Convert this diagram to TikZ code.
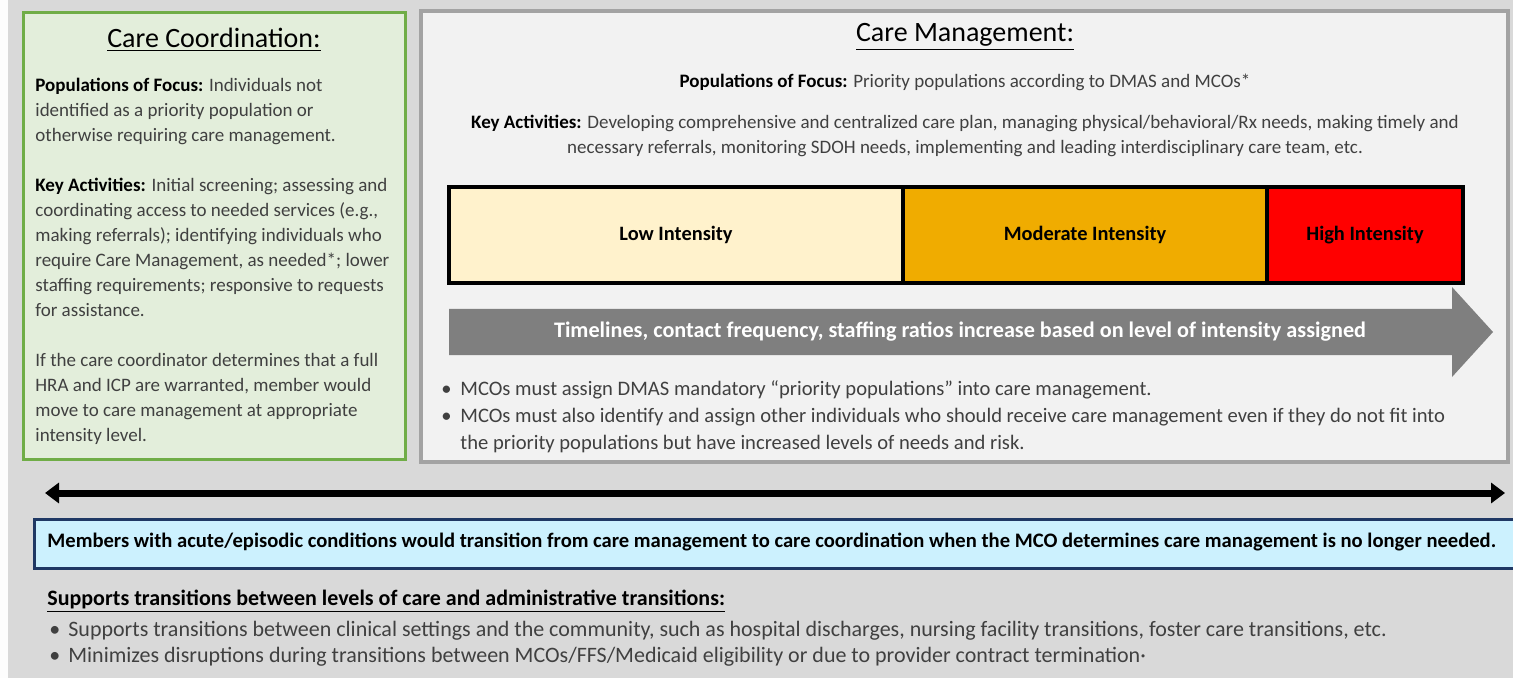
\documentclass[tikz,border=0pt]{standalone}
\usepackage{fontspec}
\setmainfont{Carlito}
\usetikzlibrary{arrows.meta,positioning}

\definecolor{bggray}{HTML}{D9D9D9}
\definecolor{ccfill}{HTML}{E3EEDB}
\definecolor{ccline}{HTML}{70AD47}
\definecolor{cmfill}{HTML}{F2F2F2}
\definecolor{cmline}{HTML}{A3A3A3}
\definecolor{lowfill}{HTML}{FFF2CC}
\definecolor{modfill}{HTML}{F0AC00}
\definecolor{highfill}{HTML}{FF0000}
\definecolor{arrowgray}{HTML}{7F7F7F}
\definecolor{transfill}{HTML}{CCF1FE}
\definecolor{transline}{HTML}{1F3864}
\definecolor{txtgray}{HTML}{404040}

\newcommand{\hdword}[1]{\textcolor{black}{\textbf{#1}}}
\newcommand{\bul}{\makebox[9.5pt][l]{•}}

\tikzset{
  titletxt/.style={font=\fontsize{14}{16}\selectfont, text=black, inner sep=0pt},
  bodytxt/.style={font=\fontsize{9.5}{12.5}\selectfont, text=txtgray, align=left, inner sep=0pt},
  bulltxt/.style={font=\fontsize{10.3}{13.5}\selectfont, text=txtgray, align=left, inner sep=0pt},
  boldtxt/.style={font=\fontsize{10.3}{12}\selectfont\bfseries, text=black, inner sep=0pt},
  level/.style={draw=black, line width=2pt, outer sep=0pt, minimum height=48pt,
    font=\fontsize{10.2}{12}\selectfont\bfseries, text=black},
}

\begin{document}
\begin{tikzpicture}[x=0.5pt,y=-0.5pt]
  \clip (0,0) rectangle (1513,678);
  % background
  \fill[bggray] (0,0) rectangle (1513,678);
  \fill[white!95!bggray] (0,0) rectangle (8,678);

  % Care Coordination box
  \draw[ccline, fill=ccfill, line width=1.5pt] (23,13) rectangle (405,459);
  \node[titletxt] (cctitle) at (214,40) {\underline{Care Coordination:}};
  \node[bodytxt, anchor=north west] (ccbody) at (35,78) {%
    \hdword{Populations of Focus:} Individuals not\\
    identified as a priority population or\\
    otherwise requiring care management.\\[12.5pt]
    \hdword{Key Activities:} Initial screening; assessing and\\
    coordinating access to needed services (e.g.,\\
    making referrals); identifying individuals who\\
    require Care Management, as needed*; lower\\
    staffing requirements; responsive to requests\\
    for assistance.\\[12.5pt]
    If the care coordinator determines that a full\\
    HRA and ICP are warranted, member would\\
    move to care management at appropriate\\
    intensity level.};

  % Care Management box
  \draw[cmline, fill=cmfill, line width=2pt] (421,11) rectangle (1508,462);
  \node[titletxt] (cmtitle) at (965,37) {\underline{Care Management:}};
  \node[bodytxt, anchor=north, align=center] (cmfocus) at (965,74)
    {\hdword{Populations of Focus:} Priority populations according to DMAS and MCOs*};
  \node[bodytxt, anchor=north, align=center] (cmkey) at (965,115)
    {\hdword{Key Activities:} Developing comprehensive and centralized care plan, managing physical/behavioral/Rx needs, making timely and\\
     necessary referrals, monitoring SDOH needs, implementing and leading interdisciplinary care team, etc.};

  % intensity levels
  \node[level, fill=lowfill, anchor=north west, minimum width=227pt] (low) at (449,187) {Low Intensity};
  \node[level, fill=modfill, minimum width=182pt, right=0pt of low] (moderate) {Moderate Intensity};
  \node[level, fill=highfill, minimum width=98pt, right=0pt of moderate] (high) {High Intensity};

  % gray arrow
  \fill[arrowgray] (449,309) -- (1452,309) -- (1452,287) -- (1493,332)
    -- (1452,377) -- (1452,355) -- (449,355) -- cycle;
  \node[boldtxt, text=white, font=\fontsize{11.1}{13}\selectfont\bfseries] (arrowtxt) at (960,332)
    {Timelines, contact frequency, staffing ratios increase based on level of intensity assigned};

  \node[bulltxt, anchor=north west] (cmbullets) at (441,380) {%
    \bul MCOs must assign DMAS mandatory “priority populations” into care management.\\
    \bul MCOs must also identify and assign other individuals who should receive care management even if they do not fit into\\
    \hspace{9.5pt}the priority populations but have increased levels of needs and risk.};

  % transition arrow
  \coordinate (leftend) at (45,493);
  \coordinate (rightend) at (1505,493);
  \draw[line width=3.5pt, {Triangle[length=7pt,width=10pt]}-{Triangle[length=7pt,width=10pt]}] (leftend) -- (rightend);

  \node[draw=transline, fill=transfill, line width=1.5pt, anchor=north west,
    minimum width=750pt, minimum height=24.5pt] (transbox) at (33,518) {};
  \node[boldtxt, anchor=west] (transtxt) at (47,542)
    {Members with acute/episodic conditions would transition from care management to care coordination when the MCO determines care management is no longer needed.};

  \node[boldtxt, anchor=west, font=\fontsize{11}{13}\selectfont\bfseries] (suphead) at (47,601)
    {\underline{Supports transitions between levels of care and administrative transitions:}};
  \node[bulltxt, anchor=north west, font=\fontsize{11}{13}\selectfont] (supbullets) at (49,621) {%
    \bul Supports transitions between clinical settings and the community, such as hospital discharges, nursing facility transitions, foster care transitions, etc.\\
    \bul Minimizes disruptions during transitions between MCOs/FFS/Medicaid eligibility or due to provider contract termination·};
\end{tikzpicture}
\end{document}
